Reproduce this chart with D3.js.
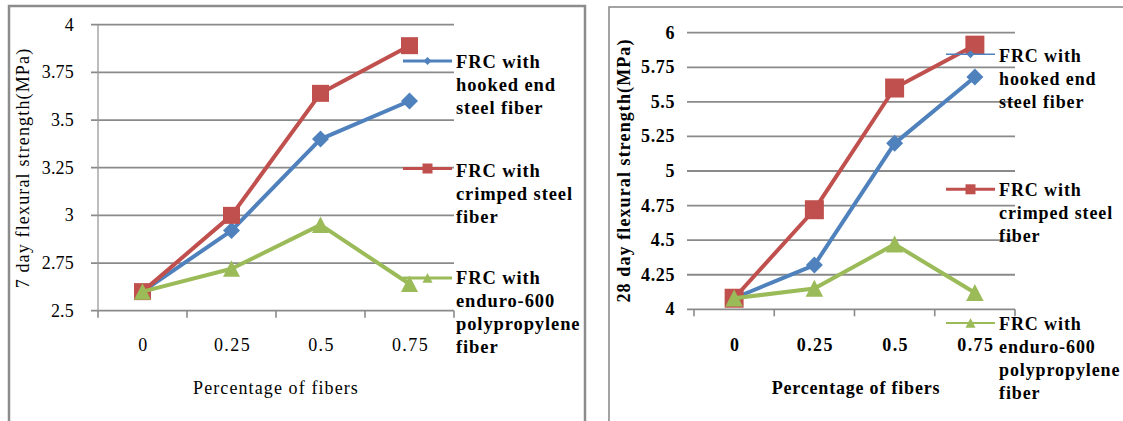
<!DOCTYPE html>
<html>
<head>
<meta charset="utf-8">
<script src="https://cdn.jsdelivr.net/npm/d3@7"></script>
<style>
  html, body { margin: 0; padding: 0; background: #fff; }
  svg { display: block; }
</style>
</head>
<body>
<svg id="chart" width="1123" height="421"></svg>
<script>
// ---------- data ----------
const categories = ["0", "0.25", "0.5", "0.75"];

const hooked7  = [2.60, 2.92, 3.40, 3.60];
const crimped7 = [2.60, 3.00, 3.64, 3.89];
const enduro7  = [2.60, 2.72, 2.95, 2.64];

const hooked28  = [4.08, 4.32, 5.20, 5.68];
const crimped28 = [4.08, 4.72, 5.60, 5.91];
const enduro28  = [4.08, 4.15, 4.47, 4.12];

const yTicks7  = [2.5, 2.75, 3, 3.25, 3.5, 3.75, 4];
const yTicks28 = [4, 4.25, 4.5, 4.75, 5, 5.25, 5.5, 5.75, 6];

const seriesNames = ["FRC with hooked end steel fiber",
                     "FRC with crimped steel fiber",
                     "FRC with enduro-600 polypropylene fiber"];
const legendLines = [["FRC with", "hooked end", "steel fiber"],
                     ["FRC with", "crimped steel", "fiber"],
                     ["FRC with", "enduro-600", "polypropylene", "fiber"]];

const xTitle = "Percentage of fibers";
const yTitle7 = "7 day flexural strength(MPa)";
const yTitle28 = "28 day flexural strength(MPa)";

const colors = ["#4F81BD", "#C0504D", "#9BBB59"];
const shapes = ["diamond", "square", "triangle"];
const FONT = "Liberation Serif, Times New Roman, Times, Tinos, Nimbus Roman, FreeSerif, DejaVu Serif, serif";

// ---------- drawing ----------
const svg = d3.select("#chart");

function markerPath(shape, size) {
  const h = size / 2;
  if (shape === "square") return `M${-h},${-h}H${h}V${h}H${-h}Z`;
  if (shape === "diamond") return `M0,${-h}L${h},0L0,${h}L${-h},0Z`;
  return `M0,${-h}L${h},${h * 0.95}L${-h},${h * 0.95}Z`;
}

function styleText(sel, size, bold, spacing) {
  return sel.style("font-family", FONT)
    .style("font-size", size + "px")
    .style("font-weight", bold ? "bold" : "normal")
    .style("letter-spacing", spacing + "px")
    .attr("fill", "#000");
}

function drawChart(cfg) {
  const g = svg.append("g");

  g.append("rect")
    .attr("x", cfg.frame[0]).attr("y", cfg.frame[1])
    .attr("width", cfg.frame[2]).attr("height", cfg.frame[3])
    .attr("fill", "none").attr("stroke", "#8c8c8c")
    .attr("stroke-width", cfg.frameW);

  const x = d3.scaleBand().domain(categories).range([cfg.x0, cfg.x1]).padding(0);
  const y = d3.scaleLinear().domain(cfg.yDomain).range([cfg.yBot, cfg.yTop]);

  g.append("g").selectAll("line").data(cfg.yTicks).join("line")
    .attr("x1", cfg.x0 - 7).attr("x2", cfg.x1)
    .attr("y1", d => y(d)).attr("y2", d => y(d))
    .attr("stroke", "#8a8a8a").attr("stroke-width", 1.8);

  if (cfg.showYAxis) {
    g.append("line")
      .attr("x1", cfg.x0).attr("x2", cfg.x0)
      .attr("y1", y(cfg.yDomain[1])).attr("y2", y(cfg.yDomain[0]) + 1)
      .attr("stroke", "#9a9a9a").attr("stroke-width", 1.3);
  }

  const bounds = categories.map(c => x(c)).concat([cfg.x1]);
  g.append("g").selectAll("line").data(bounds).join("line")
    .attr("x1", d => d).attr("x2", d => d)
    .attr("y1", y(cfg.yDomain[0])).attr("y2", y(cfg.yDomain[0]) + 7)
    .attr("stroke", "#8a8a8a").attr("stroke-width", 1.6);

  styleText(g.append("g").selectAll("text").data(cfg.yTicks).join("text")
    .attr("x", cfg.yLabelX).attr("y", d => y(d) + 6)
    .attr("text-anchor", "end"), 18, cfg.bold, cfg.bold ? 0.6 : 0.2)
    .text(d => String(d));

  styleText(g.append("g").selectAll("text").data(categories).join("text")
    .attr("x", d => x(d) + x.bandwidth() / 2 + 1).attr("y", 351)
    .attr("text-anchor", "middle"), 18, cfg.bold, 1.4)
    .text(d => d);

  styleText(g.append("text")
    .attr("x", cfg.xTitleX).attr("y", 394)
    .attr("text-anchor", "middle"), 18, cfg.bold, cfg.bold ? 0.8 : 1.1)
    .text(xTitle);

  styleText(g.append("text")
    .attr("transform", `translate(${cfg.yTitleX},${cfg.yTitleY}) rotate(-90)`)
    .attr("text-anchor", "middle"), 18, cfg.bold, cfg.bold ? 1.1 : 1.15)
    .text(cfg.yTitle);

  const line = d3.line()
    .x((d, i) => x(categories[i]) + x.bandwidth() / 2)
    .y(d => y(d));

  cfg.series.forEach((vals, si) => {
    g.append("path")
      .datum(vals)
      .attr("d", line)
      .attr("fill", "none")
      .attr("stroke", colors[si])
      .attr("stroke-width", 4)
      .attr("stroke-linejoin", "round");
    g.append("g").selectAll("path").data(vals).join("path")
      .attr("transform", (d, i) => `translate(${x(categories[i]) + x.bandwidth() / 2},${y(d)})`)
      .attr("d", markerPath(shapes[si], cfg.markerSizes[si]))
      .attr("fill", colors[si]);
  });

  const clipId = "clip" + cfg.id;
  svg.append("clipPath").attr("id", clipId)
    .append("rect").attr("x", 0).attr("y", 0)
    .attr("width", cfg.clipRight).attr("height", 421);
  const lg = g.append("g").attr("clip-path", `url(#${clipId})`);
  seriesNames.forEach((name, si) => {
    const ly = cfg.legendLineY[si];
    lg.append("line")
      .attr("x1", cfg.legX0).attr("x2", cfg.legX1)
      .attr("y1", ly).attr("y2", ly)
      .attr("stroke", colors[si])
      .attr("stroke-width", cfg.legLineW[si]);
    lg.append("path")
      .attr("transform", `translate(${(cfg.legX0 + cfg.legX1) / 2},${ly})`)
      .attr("d", markerPath(shapes[si], [8, 10, 10][si]))
      .attr("fill", colors[si]);
    const t = styleText(lg.append("text")
      .attr("x", cfg.legTextX)
      .attr("y", cfg.legendBase[si]), cfg.legFont, true, 0.9);
    legendLines[si].forEach((ln, li) => {
      t.append("tspan")
        .attr("x", cfg.legTextX)
        .attr("dy", li === 0 ? 0 : 23)
        .text(ln);
    });
  });
}

drawChart({
  id: "L",
  frame: [9, 6, 576, 600], frameW: 2.5,
  x0: 98, x1: 454, yTop: 24.7, yBot: 310.7,
  yDomain: [2.5, 4], yTicks: yTicks7,
  showYAxis: true, bold: false,
  yLabelX: 74, xTitleX: 276, yTitleX: 29, yTitleY: 168,
  yTitle: yTitle7,
  series: [hooked7, crimped7, enduro7],
  markerSizes: [17, 17, 17],
  clipRight: 584,
  legX0: 403, legX1: 452, legTextX: 456,
  legendLineY: [61, 168.5, 278],
  legendBase: [67.7, 176.5, 284],
  legLineW: [3, 3, 3],
  legFont: 18.5
});

drawChart({
  id: "R",
  frame: [609, 7, 600, 600], frameW: 1.6,
  x0: 694, x1: 1015, yTop: 32.7, yBot: 309.3,
  yDomain: [4, 6], yTicks: yTicks28,
  showYAxis: false, bold: true,
  yLabelX: 675, xTitleX: 856, yTitleX: 630, yTitleY: 170.5,
  yTitle: yTitle28,
  series: [hooked28, crimped28, enduro28],
  markerSizes: [17, 19, 17.5],
  clipRight: 1123,
  legX0: 946, legX1: 995, legTextX: 999,
  legendLineY: [54.3, 189.3, 323],
  legendBase: [61.7, 196, 330],
  legLineW: [1.5, 3, 2.2],
  legFont: 18
});
</script>
</body>
</html>
